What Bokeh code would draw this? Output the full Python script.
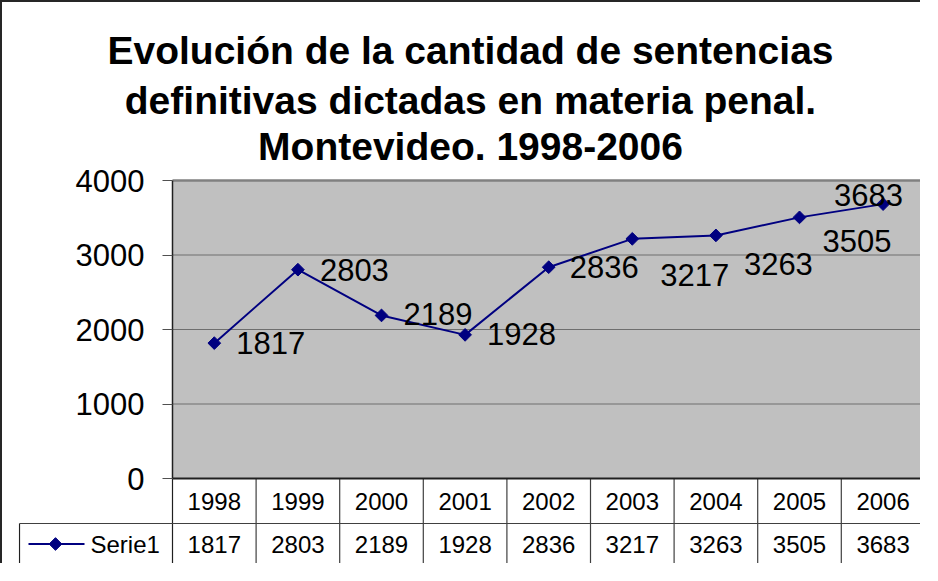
import math
from bokeh.plotting import figure
from bokeh.models import Range1d, LinearAxis, FixedTicker, ColumnDataSource, Title
from bokeh.embed import file_html
from bokeh.resources import INLINE
from bokeh.core.properties import value

# ---------------- data ----------------
YEARS = ["1998", "1999", "2000", "2001", "2002", "2003", "2004", "2005", "2006"]
SENTENCIAS = [1817, 2803, 2189, 1928, 2836, 3217, 3263, 3505, 3683]
Y_TICKS = [0, 1000, 2000, 3000, 4000]
SERIES_NAME = "Serie1"
TITLE_LINES = [
    "Evolución de la cantidad de sentencias",
    "definitivas dictadas en materia penal.",
    "Montevideo. 1998-2006",
]

# data-label placement (screen offsets, mimicking Excel's placement)
LABEL_DX = [22, 22, 22, 22, 21, 28, 28, 23, -49]
LABEL_DY = [0, 0, -1, -1, 0, 36, 29, 24, -9]

# ---------------- geometry (pixels) ----------------
W, H = 920, 563
FONT = "Liberation Sans"
Y_MAX = Y_TICKS[-1]
PLOT_TOP = 178          # px of the top of the grey area
FRAME_TOP = 163         # px of the top of the frame
ZERO_PX = 476           # px of value 0
PPU = (ZERO_PX - PLOT_TOP) / Y_MAX   # px per unit
COL_PX = 83.6
X0_PX = 170             # px of first column boundary
FRAME_LEFT = 16

def px_x(px):
    return (px - X0_PX) / COL_PX

def px_y(px):
    return (ZERO_PX - px) / PPU

y_start = px_y(H)
y_end = px_y(FRAME_TOP)
row_split = px_y(ZERO_PX + 45)
table_bottom = px_y(ZERO_PX + 86)
x_start = px_x(FRAME_LEFT)
x_end = px_x(W)
cell_left = px_x(FRAME_LEFT + 1)
n = len(YEARS)

p = figure(width=W, height=H, output_backend="svg", toolbar_location=None,
           x_range=Range1d(x_start, x_end), y_range=Range1d(y_start, y_end),
           x_axis_type=None, y_axis_type=None,
           min_border_left=FRAME_LEFT, min_border_right=0, min_border_top=FRAME_TOP,
           min_border_bottom=0)
p.outline_line_color = None
p.background_fill_color = "white"
p.border_fill_color = "white"
p.xgrid.visible = False
p.ygrid.visible = False
p.styles = {"border-left": "2px solid #262626", "border-top": "2px solid #262626"}

# title: one centred Title per line (added bottom line first)
p.title.visible = False
for k, line in enumerate(reversed(TITLE_LINES)):
    p.add_layout(Title(text=line, text_font=FONT, text_font_size="39px",
                       text_font_style="bold", text_color="black", align="center",
                       standoff=(-4 if k == 0 else 5)), "above")

# plot area
p.quad(left=0, right=n, bottom=0, top=Y_MAX, fill_color="#C0C0C0", line_color=None)
inner = [t for t in Y_TICKS if 0 < t < Y_MAX]
p.segment(x0=[0] * len(inner), x1=[n] * len(inner), y0=inner, y1=inner,
          line_color="#6e6e6e", line_width=1.2)
p.segment(x0=[0], x1=[n], y0=[Y_MAX], y1=[Y_MAX], line_color="#808080", line_width=2.5)

# y axis
yaxis = LinearAxis(ticker=FixedTicker(ticks=Y_TICKS), fixed_location=0, bounds=(0, Y_MAX))
yaxis.axis_line_color = "#202020"
yaxis.axis_line_width = 1.5
yaxis.major_tick_line_color = "#505050"
yaxis.major_tick_out = 10
yaxis.major_tick_in = 0
yaxis.minor_tick_line_color = None
yaxis.major_label_text_font = FONT
yaxis.major_label_text_font_size = "31px"
yaxis.major_label_text_color = "black"
yaxis.major_label_standoff = 18
p.add_layout(yaxis, "left")

# table
centers = [i + 0.5 for i in range(n)]
p.segment(x0=list(range(1, n + 1)), x1=list(range(1, n + 1)), y0=[table_bottom] * n, y1=[0] * n,
          line_color="#404040", line_width=1.2)
p.segment(x0=[0, cell_left], x1=[0, cell_left], y0=[table_bottom, table_bottom], y1=[0, row_split],
          line_color="#202020", line_width=1.2)
p.segment(x0=[cell_left, cell_left], x1=[n, n], y0=[row_split, table_bottom], y1=[row_split, table_bottom],
          line_color="#404040", line_width=1.2)
p.segment(x0=[0], x1=[n], y0=[0], y1=[0], line_color="#202020", line_width=2.2)

tsrc = ColumnDataSource(dict(x=centers, year=YEARS, val=[str(v) for v in SENTENCIAS],
                             y1=[row_split / 2] * n, y2=[(row_split + table_bottom) / 2] * n))
p.text(x="x", y="y1", text="year", source=tsrc, text_align="center", text_baseline="middle",
       text_font=value(FONT), text_font_size="24px", text_color="black")
p.text(x="x", y="y2", text="val", source=tsrc, text_align="center", text_baseline="middle",
       text_font=value(FONT), text_font_size="24px", text_color="black")

# legend key in the table's first cell
key_y = (row_split + table_bottom) / 2
p.segment(x0=[px_x(26)], x1=[px_x(82)], y0=[key_y], y1=[key_y], line_color="#000080", line_width=2)
p.scatter(x=[px_x(53)], y=[key_y], marker="square", size=9, angle=math.pi / 4,
          fill_color="#000080", line_color="#000080")
p.text(x=[px_x(88)], y=[key_y], text=[SERIES_NAME], text_align="left", text_baseline="middle",
       text_font=value(FONT), text_font_size="24px", text_color="black")

# series
src = ColumnDataSource(dict(x=centers, y=SENTENCIAS, lab=[str(v) for v in SENTENCIAS],
                            dx=LABEL_DX, dy=LABEL_DY))
p.line(x="x", y="y", source=src, line_color="#000080", line_width=2)
p.scatter(x="x", y="y", source=src, marker="square", size=9, angle=math.pi / 4,
          fill_color="#000080", line_color="#000080")
p.text(x="x", y="y", text="lab", source=src, x_offset="dx", y_offset="dy",
       text_align="left", text_baseline="middle",
       text_font=value(FONT), text_font_size="31px", text_color="black")

open("out.html", "w").write(file_html(p, INLINE))
